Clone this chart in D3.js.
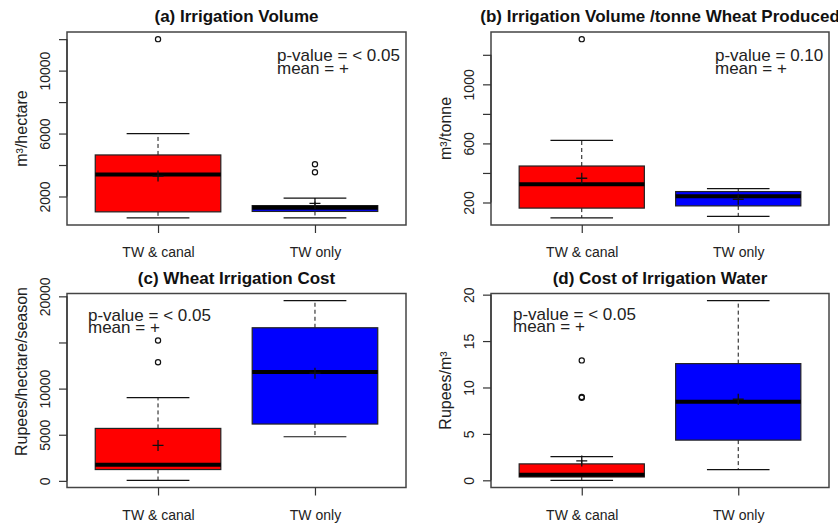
<!DOCTYPE html>
<html>
<head>
<meta charset="utf-8">
<script src="https://cdn.jsdelivr.net/npm/d3@7"></script>
<style>
  html, body { margin: 0; padding: 0; background: #fff; }
  svg { display: block; font-family: "Liberation Sans", Arial, sans-serif; }
</style>
</head>
<body>
<svg id="chart" width="838" height="523"></svg>
<script>
// ---------------- data ----------------
const groups = ["TW & canal", "TW only"];
const groupColors = ["#FF0000", "#0000FF"];

const panelTags = ["(a)", "(b)", "(c)", "(d)"];
const panelTitles = ["Irrigation Volume", "Irrigation Volume /tonne Wheat Produced", "Wheat Irrigation Cost", "Cost of Irrigation Water"];
const yTitles = ["m\u00B3/hectare", "m\u00B3/tonne", "Rupees/hectare/season", "Rupees/m\u00B3"];
const pValueTexts = ["p-value = < 0.05", "p-value = 0.10", "p-value = < 0.05", "p-value = < 0.05"];
const meanText = "mean = +";

// stats per group: [lower whisker, Q1, median, Q3, upper whisker]
const volumeStats = [[642, 1023, 3396, 4640, 6000], [642, 1050, 1290, 1420, 1892]];
const volumeMeans = [3300, 1556];
const volumeOutliers = [[12000], [3540, 4050]];
const volumeTicks = [2000, 4000, 6000, 8000, 10000, 12000];
const volumeTickLabels = [2000, 6000, 10000];

const perTonneStats = [[96, 162, 323, 447, 620], [106, 177, 242, 274, 294]];
const perTonneMeans = [364, 222];
const perTonneOutliers = [[1306], []];
const perTonneTicks = [200, 400, 600, 800, 1000, 1200];
const perTonneTickLabels = [200, 600, 1000];

const costStats = [[60, 1228, 1739, 5685, 9022], [4783, 6159, 11812, 16594, 19529]];
const costMeans = [3837, 11667];
const costOutliers = [[12862, 15217], []];
const costTicks = [0, 5000, 10000, 15000, 20000];
const costTickLabels = [0, 5000, 10000, 20000];

const waterStats = [[0.0, 0.36, 0.61, 1.77, 2.56], [1.15, 4.33, 8.45, 12.57, 19.35]];
const waterMeans = [2.09, 8.73];
const waterOutliers = [[8.9, 8.98, 12.92], []];
const waterTicks = [0, 5, 10, 15, 20];
const waterTickLabels = [0, 5, 10, 15, 20];

// ---------------- layout ----------------
const panelData = [
  {stats: volumeStats, means: volumeMeans, outliers: volumeOutliers, ticks: volumeTicks, labels: volumeTickLabels},
  {stats: perTonneStats, means: perTonneMeans, outliers: perTonneOutliers, ticks: perTonneTicks, labels: perTonneTickLabels},
  {stats: costStats, means: costMeans, outliers: costOutliers, ticks: costTicks, labels: costTickLabels},
  {stats: waterStats, means: waterMeans, outliers: waterOutliers, ticks: waterTicks, labels: waterTickLabels}
];
const plotRects = [
  {x: 67, y: 32, w: 339, h: 193},
  {x: 491, y: 32, w: 338, h: 193},
  {x: 67, y: 293.5, w: 339, h: 194},
  {x: 491, y: 293.5, w: 338, h: 194}
];
const pTextPos = [{dx: 210, dy: 29}, {dx: 224, dy: 29}, {dx: 21, dy: 27}, {dx: 22, dy: 26}];
const yTitleShift = [0, 0, -19, 0];

const svg = d3.select("#chart");
const ink = "#111";

panelData.forEach((pd, i) => {
  const r = plotRects[i];
  const g = svg.append("g");

  const x = d3.scaleLinear().domain([0.42, 2.58]).range([r.x, r.x + r.w]);
  const all = [];
  pd.stats.forEach(s => all.push(...s));
  pd.outliers.forEach(o => all.push(...o));
  const lo = d3.min(all), hi = d3.max(all), ext = (hi - lo) * 0.04;
  const y = d3.scaleLinear().domain([lo - ext, hi + ext]).range([r.y + r.h, r.y]);

  const boxW = x(1.8) - x(1.0);
  const capW = boxW / 2;

  pd.stats.forEach((s, gi) => {
    const cx = x(gi + 1);
    const [wl, q1, med, q3, wu] = s;
    // whiskers (dashed)
    g.append("line").attr("x1", cx).attr("x2", cx).attr("y1", y(q3)).attr("y2", y(wu))
      .attr("stroke", ink).attr("stroke-width", 1).attr("stroke-dasharray", "4,3");
    g.append("line").attr("x1", cx).attr("x2", cx).attr("y1", y(q1)).attr("y2", y(wl))
      .attr("stroke", ink).attr("stroke-width", 1).attr("stroke-dasharray", "4,3");
    // caps
    [wl, wu].forEach(v => {
      g.append("line").attr("x1", cx - capW / 2).attr("x2", cx + capW / 2)
        .attr("y1", y(v)).attr("y2", y(v)).attr("stroke", ink).attr("stroke-width", 1.2);
    });
    // box
    g.append("rect").attr("x", cx - boxW / 2).attr("y", y(q3))
      .attr("width", boxW).attr("height", y(q1) - y(q3))
      .attr("fill", groupColors[gi]).attr("stroke", "#222").attr("stroke-width", 1.2);
    // median
    g.append("line").attr("x1", cx - boxW / 2).attr("x2", cx + boxW / 2)
      .attr("y1", y(med)).attr("y2", y(med)).attr("stroke", "#000").attr("stroke-width", 4);
    // outliers
    pd.outliers[gi].forEach(v => {
      g.append("circle").attr("cx", cx).attr("cy", y(v)).attr("r", 2.6)
        .attr("fill", "none").attr("stroke", ink).attr("stroke-width", 1.2);
    });
    // mean
    const my = y(pd.means[gi]), hs = 5.5;
    g.append("path").attr("d", `M${cx - hs},${my}H${cx + hs}M${cx},${my - hs}V${my + hs}`)
      .attr("stroke", ink).attr("stroke-width", 1.3).attr("fill", "none");
  });

  // frame
  g.append("rect").attr("x", r.x).attr("y", r.y).attr("width", r.w).attr("height", r.h)
    .attr("fill", "none").attr("stroke", "#444").attr("stroke-width", 1.5);

  // y axis
  const yAxis = d3.axisLeft(y).tickValues(pd.ticks).tickSize(8)
    .tickFormat(d => pd.labels.includes(d) ? String(d) : "");
  const ya = g.append("g").attr("transform", `translate(${r.x},0)`).call(yAxis);
  ya.select(".domain").remove();
  ya.selectAll(".tick line").attr("stroke", "#333").attr("stroke-width", 1.2);
  ya.selectAll(".tick text")
    .attr("transform", "rotate(-90)").attr("x", 0).attr("y", -17).attr("dy", 0)
    .attr("text-anchor", "middle").attr("font-size", 14).attr("fill", "#222")
    .attr("font-family", "Liberation Sans, Arial, sans-serif");
  g.append("line").attr("x1", r.x).attr("x2", r.x)
    .attr("y1", y(d3.min(pd.ticks))).attr("y2", y(d3.max(pd.ticks)))
    .attr("stroke", "#333").attr("stroke-width", 1.2);

  // x axis
  const xAxis = d3.axisBottom(x).tickValues([1, 2]).tickSize(8)
    .tickFormat(d => groups[d - 1]);
  const xa = g.append("g").attr("transform", `translate(0,${r.y + r.h})`).call(xAxis);
  xa.select(".domain").remove();
  xa.selectAll(".tick line").attr("stroke", "#333").attr("stroke-width", 1.2);
  xa.selectAll(".tick text").attr("y", 32).attr("dy", 0)
    .attr("font-size", 14).attr("fill", "#222")
    .attr("font-family", "Liberation Sans, Arial, sans-serif");

  // y title
  const cy = r.y + r.h / 2 + yTitleShift[i];
  g.append("text").attr("transform", `translate(${r.x - 40},${cy}) rotate(-90)`)
    .attr("text-anchor", "middle").attr("font-size", 16).attr("fill", "#222")
    .text(yTitles[i]);

  // title
  const t = g.append("text").attr("x", r.x + r.w / 2).attr("y", r.y - 10)
    .attr("text-anchor", "middle").attr("font-size", 17).attr("font-weight", "bold").attr("fill", "#111");
  t.append("tspan").text(panelTags[i] + " ");
  t.append("tspan").text(panelTitles[i]);

  // p-value annotation
  const px = r.x + pTextPos[i].dx, py = r.y + pTextPos[i].dy;
  g.append("text").attr("x", px).attr("y", py).attr("font-size", 17).attr("fill", "#222").text(pValueTexts[i]);
  g.append("text").attr("x", px).attr("y", py + 12.5).attr("font-size", 17).attr("fill", "#222").text(meanText);
});
</script>
</body>
</html>
